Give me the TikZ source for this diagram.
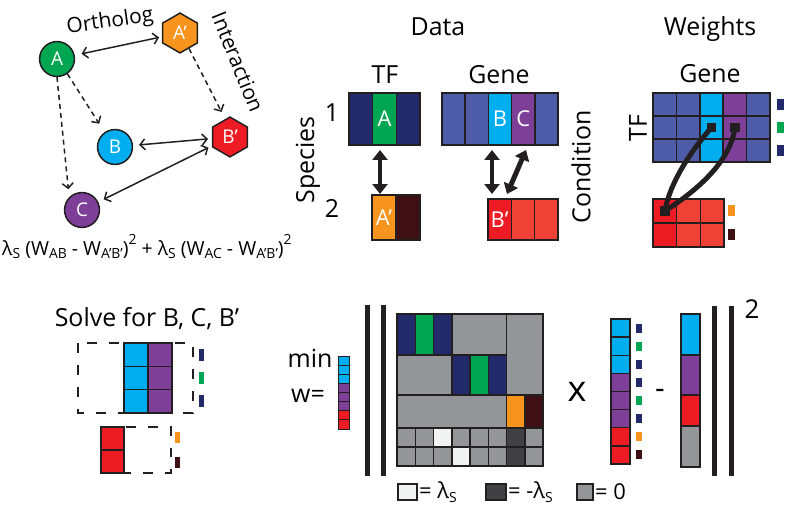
\documentclass[tikz,border=0pt]{standalone}
\usepackage{fontspec}
\setmainfont{Open Sans}
\usetikzlibrary{arrows.meta, shapes.geometric}
\definecolor{ink}{HTML}{231F20}
\definecolor{navy}{HTML}{232A69}
\definecolor{mblue}{HTML}{4E5CA9}
\definecolor{sky}{HTML}{00AEEF}
\definecolor{plum}{HTML}{7D3F98}
\definecolor{leaf}{HTML}{00A651}
\definecolor{amber}{HTML}{F7941D}
\definecolor{wine}{HTML}{3E1013}
\definecolor{scarlet}{HTML}{ED1C24}
\definecolor{coral}{HTML}{EF4136}
\definecolor{zero}{HTML}{939598}
\definecolor{pos}{HTML}{F1F2F2}
\definecolor{negc}{HTML}{414042}
\newcommand\lsub[1]{\raisebox{-0.35ex}{\fontsize{14}{14}\selectfont #1}}
\newcommand\lsup[1]{\raisebox{1.0ex}{\fontsize{14}{14}\selectfont #1}}
\tikzset{
  gene/.style={circle, draw=ink, line width=1.5, minimum size=35, inner sep=0, text=white, font=\fontsize{19}{19}\selectfont},
  hexa/.style={regular polygon, regular polygon sides=6, shape border rotate=30, draw=ink, line width=1.5, minimum size=40, inner sep=0, text=white, font=\fontsize{19}{19}\selectfont},
  link/.style={ink, line width=1.5, >={Straight Barb[length=5pt,width=11pt]}},
  infer/.style={link, dash pattern=on 5pt off 4pt},
  fat/.style={ink, line width=5, >={Triangle[length=10pt,width=15pt]}},
  cell/.style={draw=ink, line width=1.5},
  frame/.style={draw=ink, line width=2},
  ghost/.style={draw=ink, line width=1.5, dash pattern=on 10pt off 12pt},
  head/.style={font=\fontsize{25}{30}\selectfont, anchor=base},
  side/.style={font=\fontsize{25}{30}\selectfont, rotate=90},
  lab/.style={text=white, font=\fontsize{22}{22}\selectfont},
  leg/.style={font=\fontsize{22}{22}\selectfont, anchor=west, inner sep=1},
  knob/.style={fill=ink, minimum size=10, inner sep=0},
  tie/.style={draw=ink, line width=5, line cap=round},
}
\begin{document}
\begin{tikzpicture}[x=1bp, y=-1bp]
  \useasboundingbox (0,0) rectangle (787,505);
  % --- ortholog / interaction graph ---
  \node[gene, fill=leaf]    (A)  at (57,59)   {A};
  \node[hexa, fill=amber]   (Ap) at (180,33)  {A’};
  \node[gene, fill=sky]     (B)  at (115,147) {B};
  \node[hexa, fill=scarlet] (Bp) at (230,137) {B’};
  \node[gene, fill=plum]    (C)  at (82,210)  {C};
  \draw[link, <->, shorten <=7, shorten >=3] (A) -- (Ap);
  \draw[link, <->, shorten <=6, shorten >=4] (B) -- (Bp);
  \draw[link, <->, shorten <=6, shorten >=4] (C) -- (Bp);
  \draw[infer, ->, shorten >=8] (Ap.-60) -- (Bp.105);
  \draw[infer, ->, shorten >=10] (A.-55) -- (B.125);
  \draw[infer, ->, shorten >=8] (A.south) -- (C.135);
  \node[font=\fontsize{21}{21}\selectfont, rotate=8] (orth) at (110,22) {Ortholog};
  \node[font=\fontsize{21}{21}\selectfont, rotate=-68] (inter) at (238,62) {Interaction};
  \node[font=\fontsize{19.5}{19.5}\selectfont, anchor=west, inner sep=0] (eq) at (2,247)
    {λ\lsub{S} (W\lsub{AB} - W\lsub{A’B’})\lsup{2} + λ\lsub{S} (W\lsub{AC} - W\lsub{A’B’})\lsup{2}};
  % --- data ---
  \node[head] (data) at (438,36) {Data};
  \node[head] (tf) at (385,84) {TF};
  \node[head] (gn) at (499,84) {Gene};
  \node[side] (spec) at (308,160) {Species};
  \node[side] (cond) at (581,167) {Condition};
  \node[font=\fontsize{25}{30}\selectfont] (one) at (332,113) {1};
  \node[font=\fontsize{25}{30}\selectfont] (two) at (332,208) {2};
  \foreach \c [count=\i from 0] in {navy,leaf,navy}
    \filldraw[cell, fill=\c] (349+\i*23.67,93) rectangle ++(23.67,52);
  \draw[frame] (349,93) rectangle (420,145);
  \node[lab] (ta) at (384.5,119) {A};
  \foreach \c [count=\i from 0] in {amber,wine}
    \filldraw[cell, fill=\c] (372+\i*24,195) rectangle ++(24,45);
  \draw[frame] (372,195) rectangle (420,240);
  \node[lab] (tap) at (384,218) {A’};
  \foreach \c [count=\i from 0] in {mblue,mblue,sky,plum,mblue}
    \filldraw[cell, fill=\c] (442+\i*23.2,93) rectangle ++(23.2,52);
  \draw[frame] (442,93) rectangle (558,145);
  \node[lab] (gb) at (500,119) {B};
  \node[lab] (gc) at (523.2,119) {C};
  \foreach \c [count=\i from 0] in {scarlet,coral,coral}
    \filldraw[cell, fill=\c] (488+\i*23.33,199) rectangle ++(23.33,41);
  \draw[frame] (488,199) rectangle (558,240);
  \node[lab] (gbp) at (499.7,220) {B’};
  \coordinate (tfup) at (380,150);
  \coordinate (tfdn) at (380,194);
  \coordinate (gup) at (492,150);
  \coordinate (gdn) at (492,194);
  \coordinate (cup) at (526,150);
  \coordinate (cdn) at (507,194);
  \draw[fat, <->] (tfup) -- (tfdn);
  \draw[fat, <->] (gup) -- (gdn);
  \draw[fat, <->] (cdn) -- (cup);
  % --- weights ---
  \node[head] (wts) at (710,36) {Weights};
  \node[head] (wgn) at (710,83) {Gene};
  \node[side] (wtf) at (638,128) {TF};
  \foreach \c [count=\i from 0] in {mblue,mblue,sky,plum,mblue}
    \foreach \r in {0,1,2}
      \filldraw[cell, fill=\c] (653+\i*23.4,93+\r*23) rectangle ++(23.4,23);
  \draw[frame] (653,93) rectangle (770,162);
  \foreach \c [count=\r from 0] in {navy,leaf,navy}
    \fill[\c] (777,99+\r*23) rectangle ++(7,11);
  \foreach \c [count=\i from 0] in {scarlet,coral,coral}
    \foreach \r in {0,1}
      \filldraw[cell, fill=\c] (653+\i*23.67,199+\r*24) rectangle ++(23.67,24);
  \draw[frame] (653,199) rectangle (724,247);
  \fill[amber] (728,205) rectangle ++(7,11);
  \fill[wine] (728,229) rectangle ++(7,11);
  \node[knob] (kb) at (711.5,127.5) {};
  \node[knob] (kc) at (735,127.5) {};
  \node[knob] (kr) at (664.8,211) {};
  \draw[tie] (kb.center) .. controls (690,152) and (670,183) .. (kr.center);
  \draw[tie] (kc.center) .. controls (730,165) and (690,195) .. (kr.center);
  % --- solve for B, C, B' ---
  \node[head] (solve) at (147,326) {Solve for B, C, B’};
  \draw[ghost] (78,343) rectangle (193,413);
  \foreach \c [count=\i from 0] in {sky,plum}
    \foreach \r in {0,1,2}
      \filldraw[cell, fill=\c] (124+\i*24,343+\r*23.33) rectangle ++(24,23.33);
  \draw[frame] (124,343) rectangle (172,413);
  \foreach \c [count=\r from 0] in {navy,leaf,navy}
    \fill[\c] (199,349+\r*23) rectangle ++(5,12);
  \draw[ghost] (101,427) rectangle (171,473);
  \foreach \r in {0,1}
    \filldraw[cell, fill=scarlet] (101,427+\r*23) rectangle ++(23,23);
  \draw[frame] (101,427) rectangle (124,473);
  \fill[amber] (175,432) rectangle ++(5,11);
  \fill[wine] (175,457) rectangle ++(5,11);
  % --- objective ---
  \node[head] (mn) at (310,367) {min};
  \node[head] (weq) at (308,402) {w=};
  \foreach \c [count=\r from 0] in {sky,sky,sky,plum,plum,plum,scarlet,scarlet}
    \filldraw[draw=ink, line width=1, fill=\c] (338,356+\r*9.125) rectangle ++(11,9.125);
  \fill[ink] (365,305) rectangle (369.5,476);
  \fill[ink] (381,305) rectangle (385.5,476);
  \def\cw{18.25}
  \foreach \c [count=\i from 0] in {navy,leaf,navy}
    \filldraw[cell, fill=\c] (397+\i*\cw,314) rectangle ++(\cw,41);
  \filldraw[cell, fill=zero] (397+3*\cw,314) rectangle ++(3*\cw,41);
  \filldraw[cell, fill=zero] (397+6*\cw,314) rectangle (543,395);
  \filldraw[cell, fill=zero] (397,355) rectangle ++(3*\cw,40);
  \foreach \c [count=\i from 3] in {navy,leaf,navy}
    \filldraw[cell, fill=\c] (397+\i*\cw,355) rectangle ++(\cw,40);
  \filldraw[cell, fill=zero] (397,395) rectangle ++(6*\cw,33);
  \filldraw[cell, fill=amber] (397+6*\cw,395) rectangle ++(\cw,33);
  \filldraw[cell, fill=wine] (397+7*\cw,395) rectangle ++(\cw,33);
  \foreach \c [count=\i from 0] in {zero,zero,pos,zero,zero,zero,negc,zero}
    \filldraw[cell, fill=\c] (397+\i*\cw,428) rectangle ++(\cw,19);
  \foreach \c [count=\i from 0] in {zero,zero,zero,pos,zero,zero,negc,zero}
    \filldraw[cell, fill=\c] (397+\i*\cw,447) rectangle ++(\cw,19);
  \draw[frame] (397,314) rectangle (543,466);
  % legend
  \filldraw[cell, fill=pos] (398,484) rectangle (417,500);
  \node[leg] (lp) at (418,492) {= λ\lsub{S}};
  \filldraw[cell, fill=negc] (486,484) rectangle (506,500);
  \node[leg] (ln) at (507,492) {= -λ\lsub{S}};
  \filldraw[cell, fill=zero] (577,484) rectangle (593,500);
  \node[leg] (lz) at (594,492) {= 0};
  \node[font=\fontsize{36}{36}\selectfont] (times) at (577,392) {x};
  \foreach \c [count=\r from 0] in {sky,sky,sky,plum,plum,plum,scarlet,scarlet}
    \filldraw[cell, fill=\c] (611,319+\r*18.125) rectangle ++(19,18.125);
  \foreach \c [count=\r from 0] in {navy,leaf,navy,navy,leaf,navy,amber,wine}
    \fill[\c] (636,323.5+\r*18.125) rectangle ++(6,9);
  \node[font=\fontsize{30}{30}\selectfont, anchor=base] (minus) at (660,398) {-};
  \filldraw[cell, fill=sky] (681,314) rectangle (700,355);
  \filldraw[cell, fill=plum] (681,355) rectangle (700,395);
  \filldraw[cell, fill=scarlet] (681,395) rectangle (700,426);
  \filldraw[cell, fill=zero] (681,426) rectangle (700,467);
  \draw[frame] (681,314) rectangle (700,467);
  \fill[ink] (712,306) rectangle (716.5,476);
  \fill[ink] (729,306) rectangle (733.5,476);
  \node[font=\fontsize{26}{26}\selectfont] (sq) at (752,309) {2};
\end{tikzpicture}
\end{document}
